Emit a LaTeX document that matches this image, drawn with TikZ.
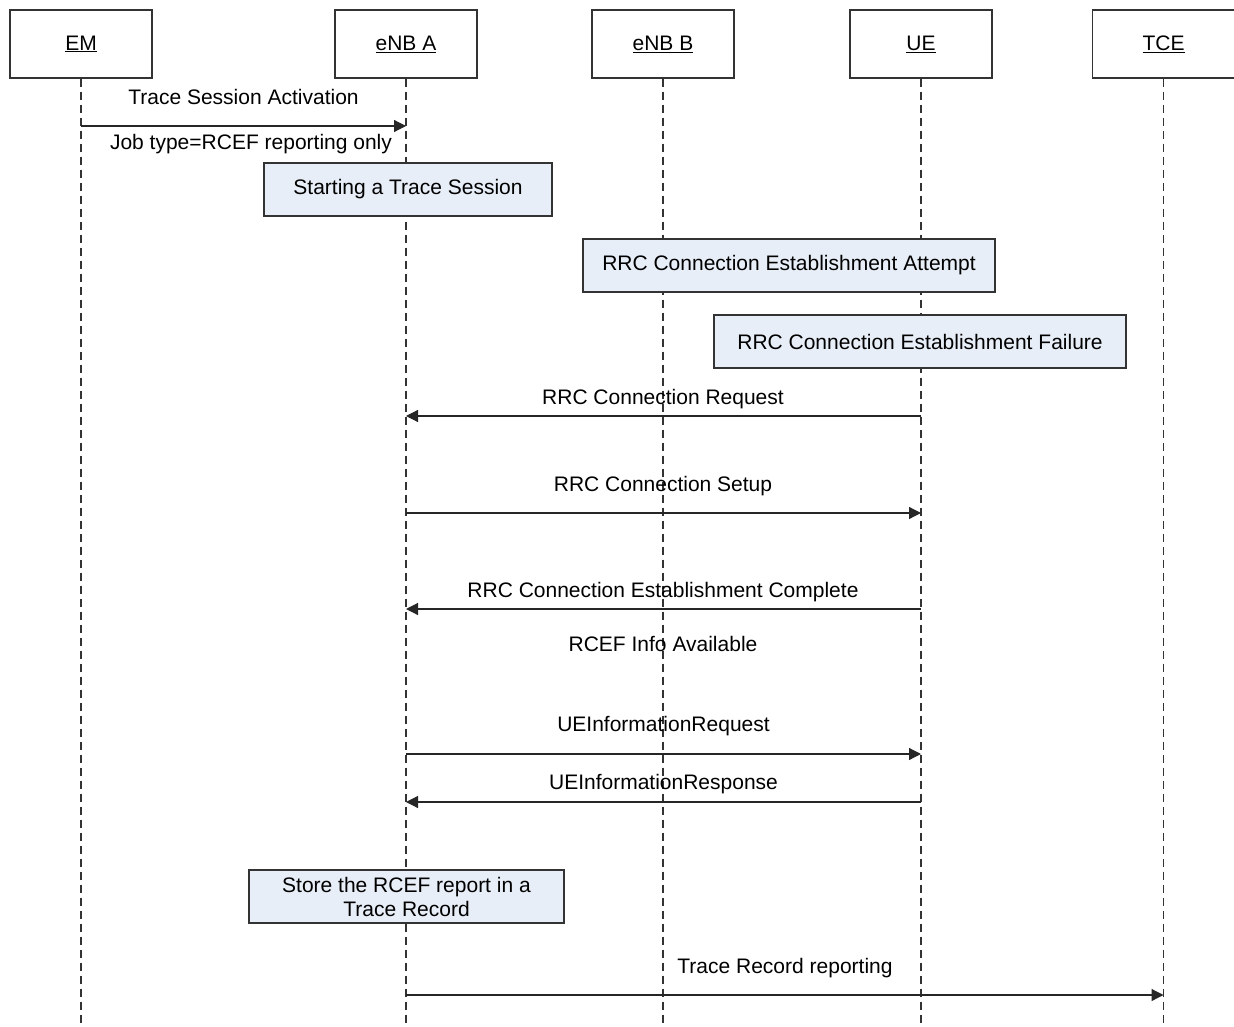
\documentclass[tikz,border=0pt]{standalone}
\usepackage{fontspec}
\setmainfont{Liberation Sans}
\usetikzlibrary{arrows.meta}
\definecolor{boxfill}{HTML}{E8EEF7}
\definecolor{lineclr}{HTML}{333333}
\begin{document}
\begin{tikzpicture}[x=1pt,y=-1pt,
  every node/.style={font=\fontsize{21}{24}\selectfont, inner sep=0pt},
  head/.style={draw=lineclr, line width=1.2pt, fill=white, minimum width=142pt, minimum height=68pt},
  lifeline/.style={draw=lineclr, line width=1.1pt, dash pattern=on 8pt off 5pt},
  actbox/.style={draw=lineclr, line width=1.2pt, fill=boxfill, minimum height=53pt, align=center},
  msg/.style={draw=black!85, line width=1.2pt, -{Triangle[length=12pt,width=12pt]}},
  lbl/.style={anchor=base}
]
\useasboundingbox (0,0) rectangle (1234,1027);
% headers
\node[head] (em) at (81,44) {\underline{EM}};
\node[head] (enba) at (406,44) {\underline{eNB A}};
\node[head] (enbb) at (663,44) {\underline{eNB B}};
\node[head] (ue) at (921,44) {\underline{UE}};
\node[head] (tce) at (1163.5,44) {\underline{TCE}};
% lifelines
\foreach \n in {em,enba,enbb,ue,tce}{
  \draw[lifeline] (\n.south) -- (\n |- 0,1027);
}
% activation boxes
\node[actbox, minimum width=288pt] (start) at (408,189.5) {Starting a Trace Session};
\node[actbox, minimum width=412pt] (attempt) at (789,265.5) {RRC Connection Establishment Attempt};
\node[actbox, minimum width=412pt] (failure) at (920,341.5) {RRC Connection Establishment Failure};
\node[actbox, minimum width=315pt, text depth=0pt] (store) at (406.5,896.5) {\strut Store the RCEF report in a\\\strut Trace Record};
% messages
\draw[msg] (em |- 0,126) -- (enba |- 0,126);
\node[lbl] (m1a) at (243.5,105) {Trace Session Activation};
\node[lbl] (m1b) at (251,150) {Job type=RCEF reporting only};

\draw[msg] (ue |- 0,416) -- (enba |- 0,416);
\node[lbl] (m2) at (663,404) {RRC Connection Request};

\draw[msg] (enba |- 0,513) -- (ue |- 0,513);
\node[lbl] (m3) at (663,491) {RRC Connection Setup};

\draw[msg] (ue |- 0,609) -- (enba |- 0,609);
\node[lbl] (m4) at (663,597) {RRC Connection Establishment Complete};
\node[lbl] (info) at (663,651) {RCEF Info Available};

\draw[msg] (enba |- 0,754) -- (ue |- 0,754);
\node[lbl] (m5) at (663.5,731) {UEInformationRequest};

\draw[msg] (ue |- 0,802) -- (enba |- 0,802);
\node[lbl] (m6) at (663.5,789) {UEInformationResponse};

\draw[msg] (enba |- 0,995) -- (tce |- 0,995);
\node[lbl] (m7) at (785,973) {Trace Record reporting};
\end{tikzpicture}
\end{document}
